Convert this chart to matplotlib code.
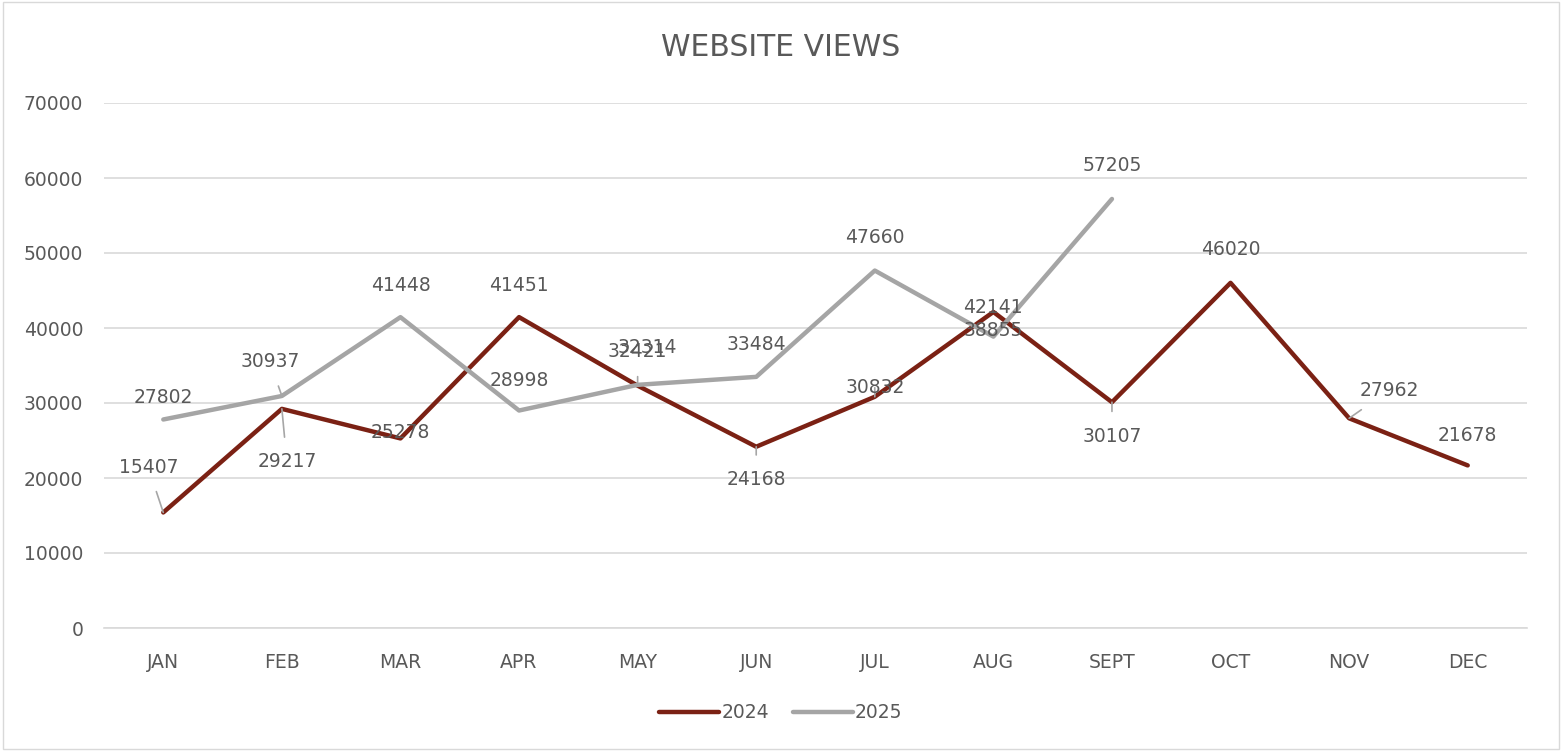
import matplotlib.pyplot as plt

# data
months = ["JAN", "FEB", "MAR", "APR", "MAY", "JUN", "JUL", "AUG", "SEPT", "OCT", "NOV", "DEC"]
views_2024 = [15407, 29217, 25278, 41451, 32314, 24168, 30832, 42141, 30107, 46020, 27962, 21678]
views_2025 = [27802, 30937, 41448, 28998, 32421, 33484, 47660, 38855, 57205]

# label offsets in pixels (dx, dy) and whether a leader line is drawn
offs_2024 = [(-15, 45), (5, -53), (0, 6), (0, 32), (10, 38), (0, -33), (0, 9), (0, 4), (0, -34), (0, 33), (40, 28), (0, 30)]
lead_2024 = [True, True, False, False, False, True, True, False, True, False, True, False]
offs_2025 = [(0, 22), (-12, 34), (0, 32), (0, 30), (0, 33), (0, 32), (0, 33), (0, 6), (0, 33)]
lead_2025 = [False, True, False, False, True, False, False, False, False]

red = "#7B2114"
gray = "#A5A5A5"
txt = "#595959"

fig = plt.figure(figsize=(15.62, 7.51), dpi=100)
ax = fig.add_axes([104 / 1562, 1 - 628 / 751, (1527 - 104) / 1562, (628 - 103) / 751])

x24 = list(range(len(views_2024)))
x25 = list(range(len(views_2025)))
ax.plot(x24, views_2024, color=red, lw=3.2, label="2024", solid_capstyle="round", zorder=3)
ax.plot(x25, views_2025, color=gray, lw=3.2, label="2025", solid_capstyle="round", zorder=3)

def labels(xs, ys, offs, leads):
    for x, y, (dx, dy), lead in zip(xs, ys, offs, leads):
        props = None
        if lead:
            props = dict(arrowstyle="-", color="#A6A6A6", lw=1.2, shrinkA=9, shrinkB=0)
        ax.annotate(str(y), (x, y), xytext=(dx, dy), textcoords="offset pixels",
                    ha="center", va="center", fontsize=13.5, color=txt,
                    arrowprops=props, zorder=4)

labels(x24, views_2024, offs_2024, lead_2024)
labels(x25, views_2025, offs_2025, lead_2025)

ax.set_xlim(-0.5, len(months) - 0.5)
ax.set_ylim(0, 70000)
ax.set_yticks(range(0, 70001, 10000))
ax.set_xticks(range(len(months)))
ax.set_xticklabels(months)
ax.tick_params(axis="both", length=0, labelsize=13.5, colors=txt)
ax.tick_params(axis="y", pad=15)
ax.tick_params(axis="x", pad=18)
ax.grid(axis="y", color="#D9D9D9", lw=1.2)
ax.set_axisbelow(True)
for s in ["top", "right", "left"]:
    ax.spines[s].set_visible(False)
ax.spines["bottom"].set_color("#D9D9D9")
ax.spines["bottom"].set_linewidth(1.2)

fig.text(0.5, 1 - 48 / 751, "WEBSITE VIEWS", ha="center", va="center", fontsize=21.5, color=txt)

leg = fig.legend(loc="center", bbox_to_anchor=(0.5, 1 - 713 / 751), ncol=2, frameon=False,
                 fontsize=13.5, handlelength=3.2, columnspacing=1.3, handletextpad=0.1)
for t in leg.get_texts():
    t.set_color(txt)

# outer border
fig.patches.append(plt.Rectangle((0.002, 0.003), 0.996, 0.994, transform=fig.transFigure,
                                 fill=False, edgecolor="#D9D9D9", lw=1))

fig.savefig("out.png", dpi=100)
